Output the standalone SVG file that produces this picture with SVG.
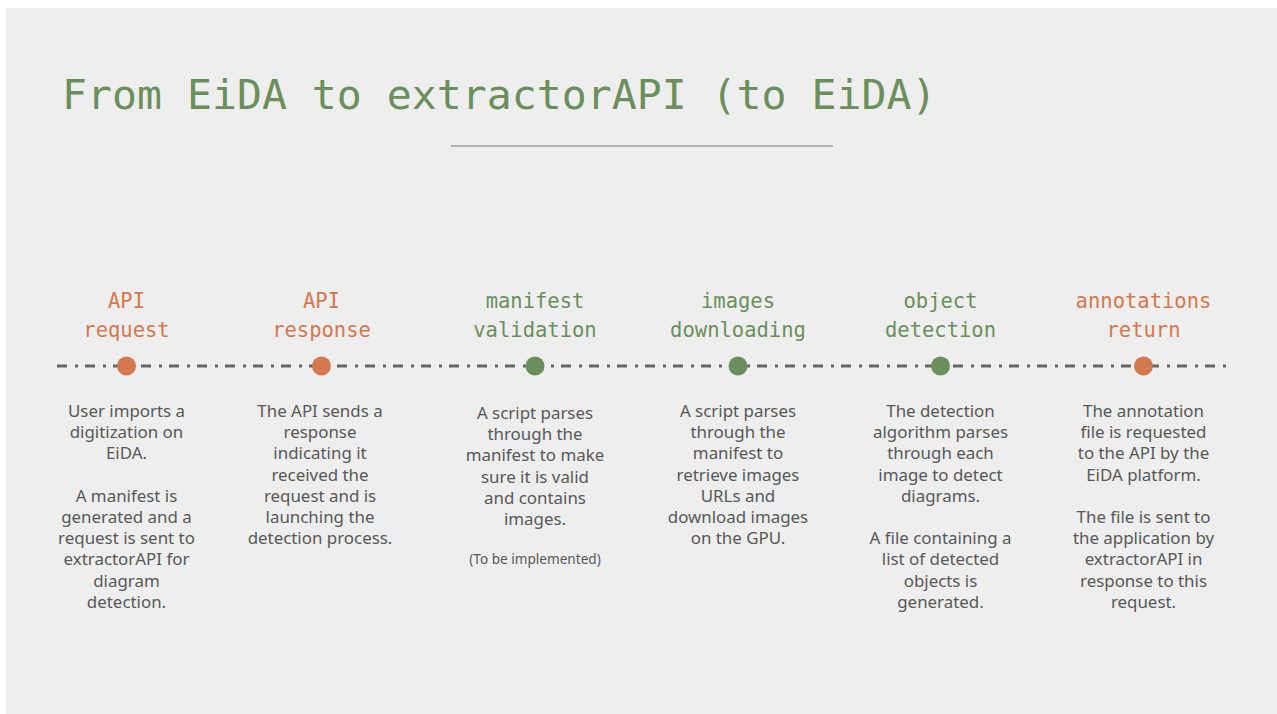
<svg xmlns="http://www.w3.org/2000/svg" width="1277" height="714" viewBox="0 0 1277 714">
<style>
.title{font-family:"DejaVu Sans Mono","Liberation Mono",monospace;font-size:41.5px;fill:#6b8f5c}
.lbl{font-family:"DejaVu Sans Mono","Liberation Mono",monospace;font-size:20.5px;text-anchor:middle}
.or{fill:#d4784f}
.gr{fill:#6b8f5c}
.body{font-family:"Noto Sans","Open Sans",sans-serif;font-size:16.9px;fill:#585858;text-anchor:middle}
.small{font-size:13.6px}
</style>
<rect x="0" y="0" width="1277" height="714" fill="#ffffff"/>
<rect x="6" y="8" width="1271" height="706" fill="#eeeeee"/>
<text class="title" x="62" y="109">From EiDA to extractorAPI (to EiDA)</text>
<line x1="451" y1="146" x2="833" y2="146" stroke="#b3b3b3" stroke-width="2"/>
<g id="connectors">
<line x1="57" y1="366" x2="1230" y2="366" stroke="#666666" stroke-width="3" stroke-dasharray="10 8 3 7"/>
</g>
<g id="n1">
<circle cx="126.5" cy="366" r="9.5" fill="#d4784f"/>
<text class="lbl or" x="126.5" y="308">API</text>
<text class="lbl or" x="126.5" y="337">request</text>
<text class="body" x="126.5" y="417">User imports a<tspan x="126.5" dy="21.2">digitization on</tspan><tspan x="126.5" dy="21.2">EiDA.</tspan><tspan x="126.5" dy="42.4">A manifest is</tspan><tspan x="126.5" dy="21.2">generated and a</tspan><tspan x="126.5" dy="21.2">request is sent to</tspan><tspan x="126.5" dy="21.2">extractorAPI for</tspan><tspan x="126.5" dy="21.2">diagram</tspan><tspan x="126.5" dy="21.2">detection.</tspan></text>
</g>
<g id="n2">
<circle cx="321.5" cy="366" r="9.5" fill="#d4784f"/>
<text class="lbl or" x="321.5" y="308">API</text>
<text class="lbl or" x="321.5" y="337">response</text>
<text class="body" x="320" y="417">The API sends a<tspan x="320" dy="21.2">response</tspan><tspan x="320" dy="21.2">indicating it</tspan><tspan x="320" dy="21.2">received the</tspan><tspan x="320" dy="21.2">request and is</tspan><tspan x="320" dy="21.2">launching the</tspan><tspan x="320" dy="21.2">detection process.</tspan></text>
</g>
<g id="n3">
<circle cx="535" cy="366" r="9.5" fill="#6b8f5c"/>
<text class="lbl gr" x="535" y="308">manifest</text>
<text class="lbl gr" x="535" y="337">validation</text>
<text class="body" x="535" y="419">A script parses<tspan x="535" dy="21.2">through the</tspan><tspan x="535" dy="21.2">manifest to make</tspan><tspan x="535" dy="21.2">sure it is valid</tspan><tspan x="535" dy="21.2">and contains</tspan><tspan x="535" dy="21.2">images.</tspan></text>
<text class="body small" x="535" y="564">(To be implemented)</text>
</g>
<g id="n4">
<circle cx="738" cy="366" r="9.5" fill="#6b8f5c"/>
<text class="lbl gr" x="738" y="308">images</text>
<text class="lbl gr" x="738" y="337">downloading</text>
<text class="body" x="738" y="417">A script parses<tspan x="738" dy="21.2">through the</tspan><tspan x="738" dy="21.2">manifest to</tspan><tspan x="738" dy="21.2">retrieve images</tspan><tspan x="738" dy="21.2">URLs and</tspan><tspan x="738" dy="21.2">download images</tspan><tspan x="738" dy="21.2">on the GPU.</tspan></text>
</g>
<g id="n5">
<circle cx="940.5" cy="366" r="9.5" fill="#6b8f5c"/>
<text class="lbl gr" x="940.5" y="308">object</text>
<text class="lbl gr" x="940.5" y="337">detection</text>
<text class="body" x="940.5" y="417">The detection<tspan x="940.5" dy="21.2">algorithm parses</tspan><tspan x="940.5" dy="21.2">through each</tspan><tspan x="940.5" dy="21.2">image to detect</tspan><tspan x="940.5" dy="21.2">diagrams.</tspan><tspan x="940.5" dy="42.4">A file containing a</tspan><tspan x="940.5" dy="21.2">list of detected</tspan><tspan x="940.5" dy="21.2">objects is</tspan><tspan x="940.5" dy="21.2">generated.</tspan></text>
</g>
<g id="n6">
<circle cx="1143.5" cy="366" r="9.5" fill="#d4784f"/>
<text class="lbl or" x="1143.5" y="308">annotations</text>
<text class="lbl or" x="1143.5" y="337">return</text>
<text class="body" x="1143.5" y="417">The annotation<tspan x="1143.5" dy="21.2">file is requested</tspan><tspan x="1143.5" dy="21.2">to the API by the</tspan><tspan x="1143.5" dy="21.2">EiDA platform.</tspan><tspan x="1143.5" dy="42.4">The file is sent to</tspan><tspan x="1143.5" dy="21.2">the application by</tspan><tspan x="1143.5" dy="21.2">extractorAPI in</tspan><tspan x="1143.5" dy="21.2">response to this</tspan><tspan x="1143.5" dy="21.2">request.</tspan></text>
</g>
</svg>
